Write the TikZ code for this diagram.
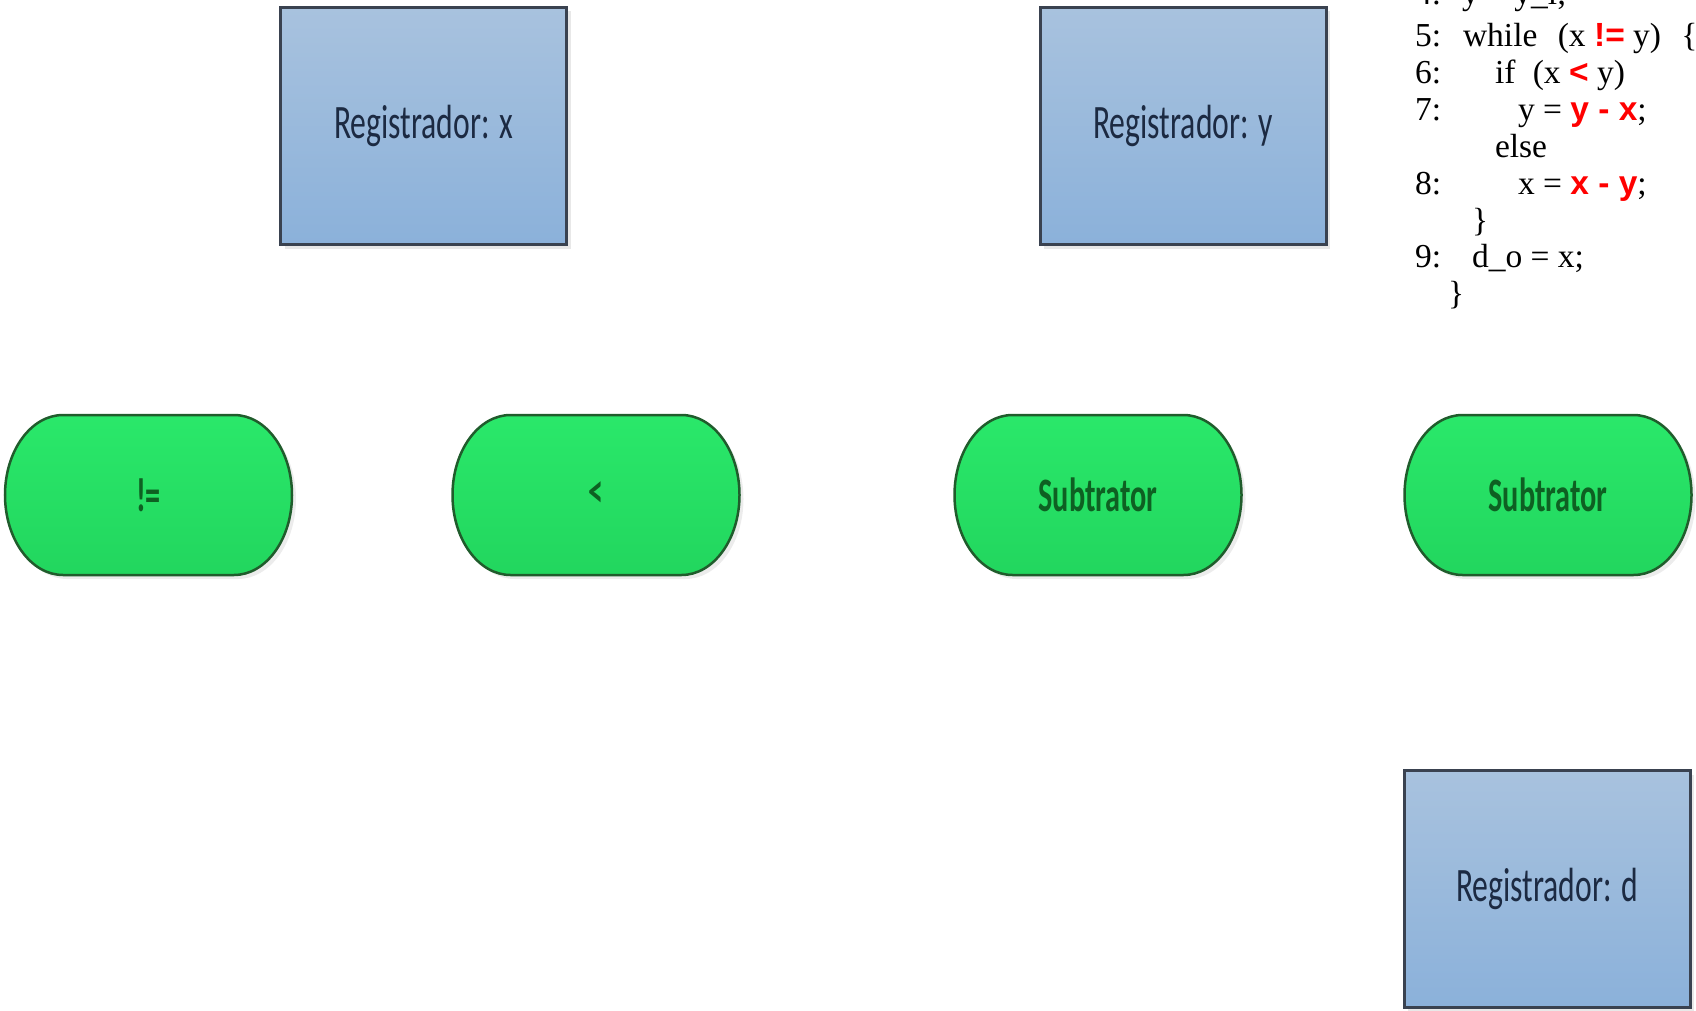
\documentclass[tikz,border=0pt]{standalone}
\usepackage{fontspec}
\setmainfont{Liberation Serif}
\setsansfont{Liberation Sans}
\newfontfamily\boxfont{Carlito}
\usepackage{xcolor}
\usepackage{tikz}
\usetikzlibrary{backgrounds, shadows}
\definecolor{boxtop}{RGB}{168,194,222}
\definecolor{boxbot}{RGB}{139,177,218}
\definecolor{boxline}{RGB}{58,66,80}
\definecolor{boxtxt}{RGB}{28,42,66}
\definecolor{pilltop}{RGB}{42,232,106}
\definecolor{pillbot}{RGB}{34,214,94}
\definecolor{pillline}{RGB}{32,92,44}
\definecolor{pilltxt}{RGB}{14,96,34}
\definecolor{opred}{RGB}{255,0,0}

\newcommand{\redop}[1]{{\sffamily\bfseries\color{opred}#1}}
\newcommand{\narrow}[1]{\scalebox{0.66}[1]{#1}}
\newcommand{\narrowb}[1]{\scalebox{0.63}[1]{\bfseries #1}}

\begin{document}
\begin{tikzpicture}[
    x=1pt, y=-1pt,
    regbox/.style={rectangle, draw=boxline, line width=3pt, top color=boxtop, bottom color=boxbot,
        minimum width=286pt, minimum height=237pt, inner sep=0pt, outer sep=0pt,
        font=\boxfont\fontsize{48}{50}\selectfont, text=boxtxt,
        drop shadow={opacity=0.18, shadow xshift=4pt, shadow yshift=-4pt}},
    pillnode/.style={minimum width=287pt, minimum height=160pt, inner sep=0pt, outer sep=0pt,
        font=\boxfont\fontsize{48}{50}\selectfont, text=pilltxt},
    pill/.style={draw=pillline, line width=2.5pt, top color=pilltop, bottom color=pillbot,
        drop shadow={opacity=0.15, shadow xshift=4pt, shadow yshift=-4pt}},
    codeline/.style={anchor=base west, inner sep=0pt, outer sep=0pt,
        font=\fontsize{33.5}{36.8}\selectfont}
]
\useasboundingbox (0,0) rectangle (1696,1011);
\clip (0,0) rectangle (1696,1011);

% registers
\node[regbox] (regx) at (423.5,126) {\narrow{Registrador: x}};
\node[regbox] (regy) at (1183,126) {\narrow{Registrador: y}};
\node[regbox] (regd) at (1547,889) {\narrow{Registrador: d}};

% operators
\node[pillnode] (ne) at (148.5,495) {\narrowb{!=}};
\node[pillnode] (lt) at (596,495) {\narrowb{<}};
\node[pillnode] (subyx) at (1098,495) {\narrowb{Subtrator}};
\node[pillnode] (subxy) at (1548,495) {\narrowb{Subtrator}};

\begin{scope}[on background layer]
\foreach \p in {ne,lt,subyx,subxy}
  \path[pill] ([xshift=58pt]\p.north west) -- ([xshift=-58pt]\p.north east)
    arc[start angle=90, end angle=-90, x radius=58pt, y radius=80pt]
    -- ([xshift=58pt]\p.south west)
    arc[start angle=270, end angle=90, x radius=58pt, y radius=80pt] -- cycle;
\end{scope}

% code
\node[codeline] (n4) at (1415,5) {4:};
\node[codeline] (c4) at (1462,5) {y = y\_i;};
\node[codeline] (n5) at (1415,47) {5:};
\node[codeline] (c5) at (1463,47) {while\hspace{12pt} (x \redop{!=} y)\hspace{12pt} \{};
\node[codeline] (n6) at (1415,83.8) {6:};
\node[codeline] (c6) at (1495,83.8) {if\hspace{9pt} (x \redop{<} y)};
\node[codeline] (n7) at (1415,120.6) {7:};
\node[codeline] (c7) at (1518,120.6) {y = \redop{y - x};};
\node[codeline] (celse) at (1495,157.4) {else};
\node[codeline] (n8) at (1415,194.2) {8:};
\node[codeline] (c8) at (1518,194.2) {x = \redop{x - y};};
\node[codeline] (cbrace) at (1472,231) {\}};
\node[codeline] (n9) at (1415,267.8) {9:};
\node[codeline] (c9) at (1472,267.8) {d\_o = x;};
\node[codeline] (cend) at (1448,304.6) {\}};

\end{tikzpicture}
\end{document}
